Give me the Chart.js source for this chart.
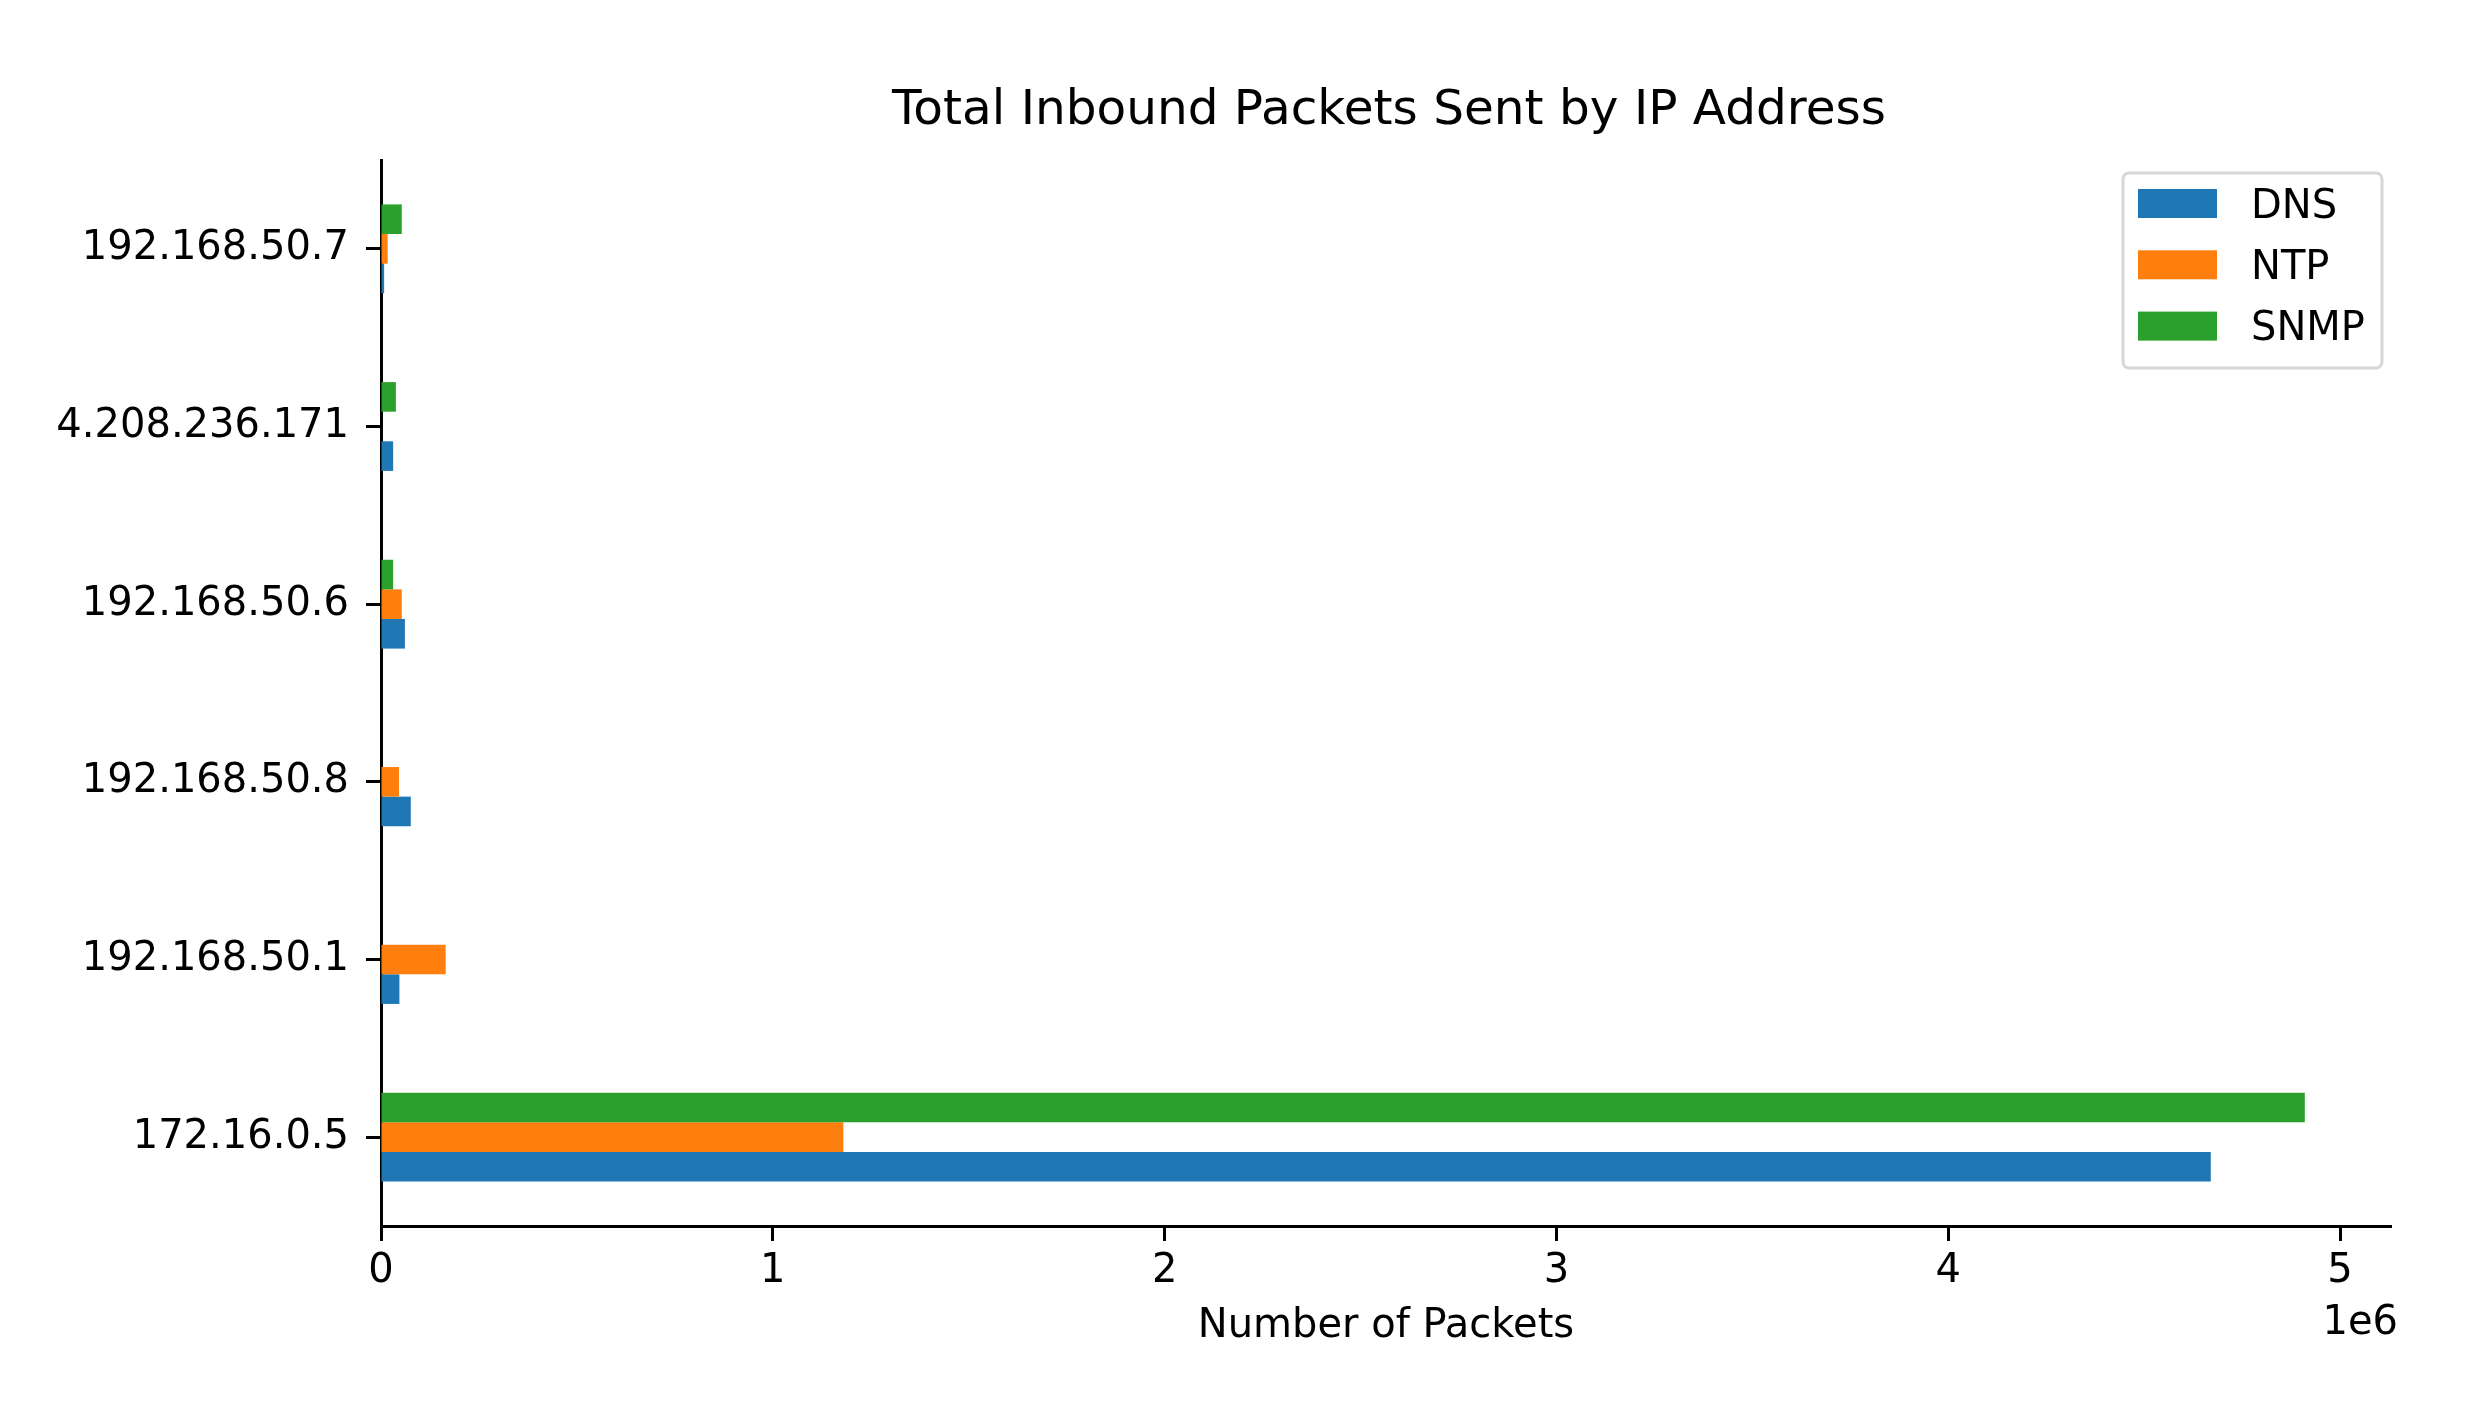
<!DOCTYPE html>
<html>
<head>
<meta charset="utf-8">
<script src="https://cdn.jsdelivr.net/npm/chart.js@4"></script>
<style>
  body { margin: 0; background: #fff; overflow: hidden; }
  canvas { display: block; }
</style>
</head>
<body>
<canvas id="chart" width="2472" height="1410"></canvas>
<script>
// categories, listed top to bottom as they appear on the y axis
const categories = ['192.168.50.7', '74.208.236.171', '192.168.50.6', '192.168.50.8', '192.168.50.1', '172.16.0.5'];
const dnsPackets  = [8000, 31000, 61000, 76000, 47000, 4670000];
const ntpPackets  = [17000, 0, 53000, 46000, 165000, 1180000];
const snmpPackets = [53000, 38000, 31000, 0, 0, 4910000];
const xTicks = [0, 1, 2, 3, 4, 5];

const FONT = 'DejaVu Sans';

// bars stack top to bottom inside a group, so SNMP first, DNS last
const series = [
    { label: 'SNMP', data: snmpPackets, color: '#2ca02c' },
    { label: 'NTP', data: ntpPackets, color: '#ff7f0e' },
    { label: 'DNS', data: dnsPackets, color: '#1f77b4' },
];

const decorations = {
    id: 'decorations',
    beforeDraw(chart) {
        // the long label runs off the left edge of the figure
        const ctx = chart.ctx;
        ctx.save();
        ctx.beginPath();
        ctx.rect(54, 0, chart.width, chart.height);
        ctx.clip();
    },
    afterDraw(chart) {
        const ctx = chart.ctx;
        ctx.restore();
        const area = chart.chartArea;

        ctx.save();
        ctx.fillStyle = '#000';
        ctx.textBaseline = 'middle';

        // title
        ctx.font = `48.5px "${FONT}"`;
        ctx.textAlign = 'center';
        ctx.fillText('Total Inbound Packets Sent by IP Address', (area.left + area.right) / 2 + 3, 111);

        // offset text for the x axis
        ctx.font = `40px "${FONT}"`;
        ctx.textAlign = 'right';
        ctx.fillText('1e6', area.right + 7, 1324);

        // legend, in DNS / NTP / SNMP order
        const box = { x: 2123, y: 173, w: 259, h: 195 };
        ctx.beginPath();
        ctx.roundRect(box.x, box.y, box.w, box.h, 6);
        ctx.fillStyle = 'rgba(255,255,255,0.8)';
        ctx.fill();
        ctx.lineWidth = 3;
        ctx.strokeStyle = '#d6d6d6';
        ctx.stroke();

        const items = chart.data.datasets.slice().reverse();
        items.forEach((ds, i) => {
            const cy = 203.5 + i * 61.3;
            ctx.fillStyle = ds.backgroundColor;
            ctx.fillRect(2138, cy - 14.5, 79, 29);
            ctx.fillStyle = '#000';
            ctx.textAlign = 'left';
            ctx.fillText(ds.label, 2251, cy + 4);
        });
        ctx.restore();
    }
};

new Chart(document.getElementById('chart'), {
    type: 'bar',
    data: {
        labels: categories,
        datasets: series.map(s => ({
            label: s.label,
            data: s.data,
            backgroundColor: s.color,
            borderWidth: 0,
            categoryPercentage: 0.5,
            barPercentage: 1.0
        }))
    },
    options: {
        indexAxis: 'y',
        responsive: false,
        animation: false,
        devicePixelRatio: 1,
        layout: { padding: { top: 160, right: 81, bottom: 0, left: 0 } },
        plugins: {
            legend: { display: false },
            title: { display: false },
            tooltip: { enabled: false }
        },
        scales: {
            x: {
                type: 'linear',
                min: 0,
                max: 5130000,
                z: 1,
                afterFit(scale) { scale.height = 184; },
                afterBuildTicks(scale) {
                    scale.ticks = xTicks.map(v => ({ value: v * 1e6 }));
                },
                ticks: {
                    color: '#000',
                    font: { family: FONT, size: 40 },
                    padding: 7,
                    maxRotation: 0,
                    callback: v => String(v / 1e6)
                },
                grid: {
                    display: true,
                    drawOnChartArea: false,
                    drawTicks: true,
                    tickLength: 15,
                    tickWidth: 3,
                    tickColor: '#000'
                },
                border: { display: true, color: '#000', width: 3 },
                title: {
                    display: true,
                    text: 'Number of Packets',
                    color: '#000',
                    font: { family: FONT, size: 40 },
                    padding: { top: 0, bottom: 59 }
                }
            },
            y: {
                z: 1,
                afterFit(scale) { scale.width = 381; },
                ticks: {
                    color: '#000',
                    font: { family: FONT, size: 40 },
                    padding: 17,
                    autoSkip: false
                },
                grid: {
                    display: true,
                    offset: false,
                    drawOnChartArea: false,
                    drawTicks: true,
                    tickLength: 15,
                    tickWidth: 3,
                    tickColor: '#000'
                },
                border: { display: true, color: '#000', width: 3 }
            }
        }
    },
    plugins: [decorations]
});
</script>
</body>
</html>
